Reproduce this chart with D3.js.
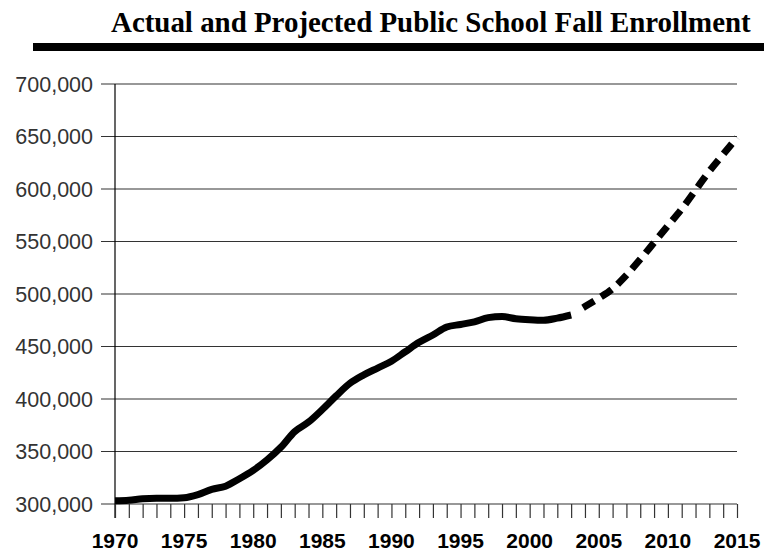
<!DOCTYPE html>
<html>
<head>
<meta charset="utf-8">
<script src="https://cdn.jsdelivr.net/npm/d3@7"></script>
<style>
  body { margin: 0; background: #fff; }
  svg { display: block; }
</style>
</head>
<body>
<svg id="chart" width="764" height="555"></svg>
<script>
// Enrollment data
var actualYears = [1970, 1971, 1972, 1973, 1974, 1975, 1976, 1977, 1978, 1979,
                   1980, 1981, 1982, 1983, 1984, 1985, 1986, 1987, 1988, 1989,
                   1990, 1991, 1992, 1993, 1994, 1995, 1996, 1997, 1998, 1999,
                   2000, 2001, 2002, 2003];
var actualValues = [303000, 303500, 305000, 305500, 305500, 306000, 309000, 314000, 317000, 324000,
                    332000, 342000, 354000, 369000, 378000, 390000, 403000, 415000, 423000, 429500,
                    436000, 445000, 454000, 461000, 468500, 471000, 473500, 477500, 478500, 476500,
                    475500, 475000, 477000, 480000];
var projectedYears = [2003, 2004, 2005, 2006, 2007, 2008, 2009, 2010, 2011, 2012, 2013, 2014, 2015];
var projectedValues = [480000, 488000, 496000, 505000, 518000, 533000, 549000, 565000, 581000, 599000, 617000, 633000, 649000];
var yTicks = [300000, 350000, 400000, 450000, 500000, 550000, 600000, 650000, 700000];
var xLabels = [1970, 1975, 1980, 1985, 1990, 1995, 2000, 2005, 2010, 2015];

var svg = d3.select("#chart");

var x = d3.scaleLinear().domain([1970, 2015]).range([115, 737]);
var y = d3.scaleLinear().domain([300000, 700000]).range([504, 84]);

// Title (squeezed serif to look condensed) and heavy rule beneath it
var titleG = svg.append("g");
var title = titleG.append("text")
    .attr("x", 0).attr("y", 0)
    .style("font-family", "'Liberation Serif', 'DejaVu Serif', serif")
    .style("font-weight", "bold")
    .style("font-size", "30px")
    .text("Actual and Projected Public School Fall Enrollment");
var natural = title.node().getComputedTextLength();
titleG.attr("transform", "translate(111,32) scale(" + (640 / natural) + ",1)");

svg.append("rect")
    .attr("x", 33).attr("y", 43)
    .attr("width", 731).attr("height", 8)
    .attr("fill", "#000");

// Horizontal gridlines
svg.append("g").selectAll("line")
    .data(yTicks).enter().append("line")
    .attr("x1", 101).attr("x2", 737)
    .attr("y1", function (d) { return y(d); })
    .attr("y2", function (d) { return y(d); })
    .attr("stroke", "#333")
    .attr("stroke-width", 1.2);

// Y labels
var fmt = d3.format(",");
svg.append("g").selectAll("text")
    .data(yTicks).enter().append("text")
    .attr("x", 93)
    .attr("y", function (d) { return y(d); })
    .attr("dy", "0.36em")
    .attr("text-anchor", "end")
    .attr("fill", "#333")
    .style("font-family", "'Liberation Sans', Arial, sans-serif")
    .style("font-size", "21.5px")
    .text(function (d) { return fmt(d); });

// Vertical axis line
svg.append("line")
    .attr("x1", 115).attr("x2", 115)
    .attr("y1", 84).attr("y2", 518)
    .attr("stroke", "#000").attr("stroke-width", 1.2);

// Year ticks along the bottom
var xAxis = d3.axisBottom(x)
    .tickValues(d3.range(1970, 2016))
    .tickSize(14)
    .tickFormat("");
var gx = svg.append("g")
    .attr("transform", "translate(0,504)")
    .call(xAxis);
gx.select(".domain").remove();
gx.selectAll("line").attr("stroke", "#333").attr("stroke-width", 1.2);

svg.append("g").selectAll("text")
    .data(xLabels).enter().append("text")
    .attr("x", function (d) { return x(d); })
    .attr("y", 548)
    .attr("text-anchor", "middle")
    .style("font-family", "'Liberation Sans', Arial, sans-serif")
    .style("font-weight", "bold")
    .style("font-size", "21px")
    .text(function (d) { return d; });

// Lines
var line = d3.line()
    .x(function (d) { return x(d[0]); })
    .y(function (d) { return y(d[1]); })
    .curve(d3.curveMonotoneX);

svg.append("path")
    .datum(d3.zip(actualYears, actualValues))
    .attr("d", line)
    .attr("fill", "none")
    .attr("stroke", "#000")
    .attr("stroke-width", 7)
    .attr("stroke-linejoin", "round");

svg.append("path")
    .datum(d3.zip(projectedYears, projectedValues))
    .attr("d", line)
    .attr("fill", "none")
    .attr("stroke", "#000")
    .attr("stroke-width", 7)
    .attr("stroke-dasharray", "0,14,13,8,13,8,13,8,13,8,13,8,13,8,13,8,13,8,13,8,13,8,13,8,13,8,13,8,13,8,13,8");
</script>
</body>
</html>
